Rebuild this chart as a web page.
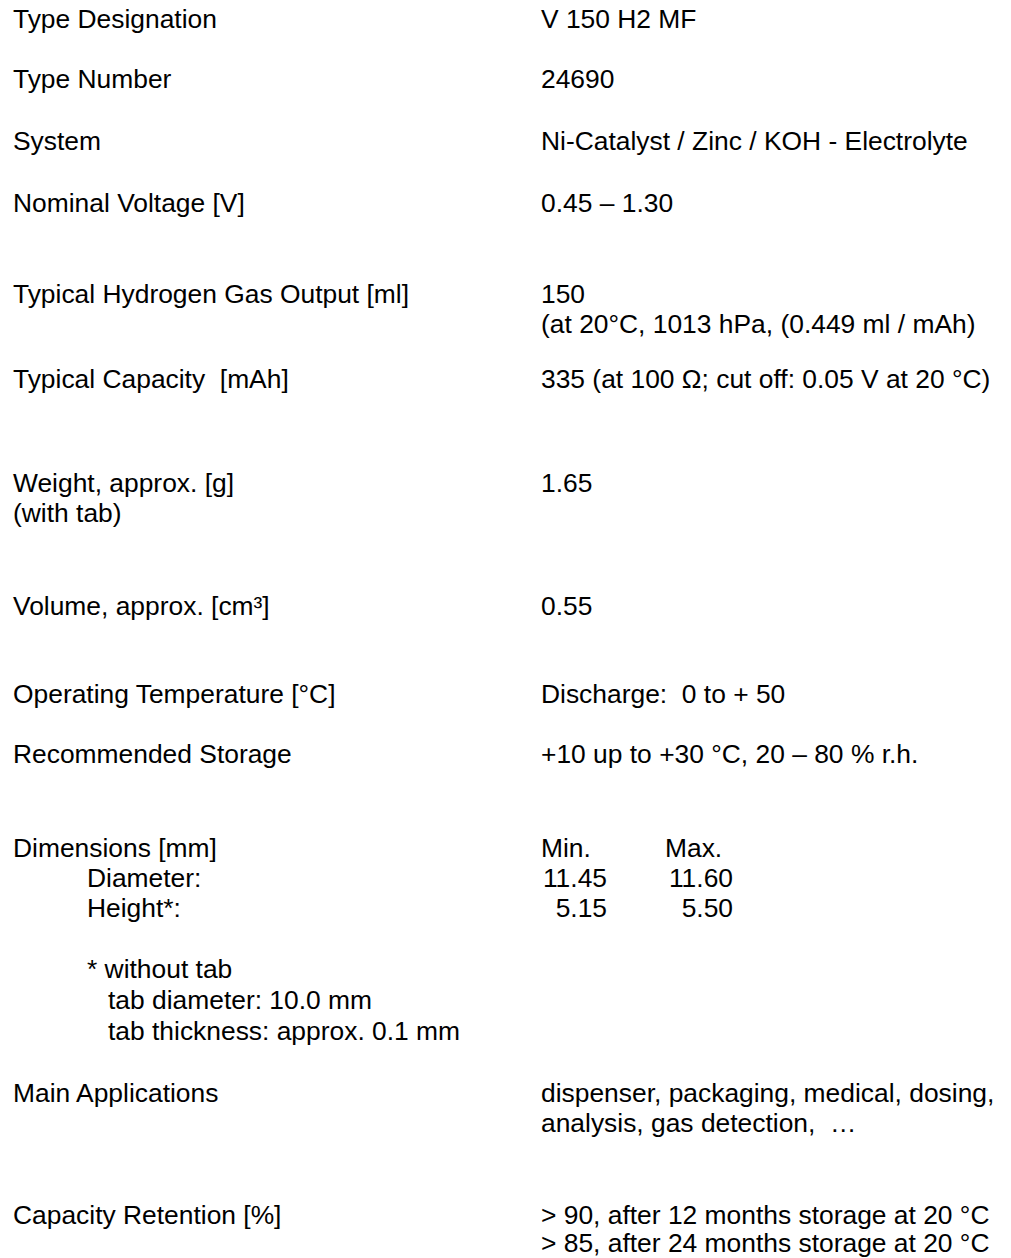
<!DOCTYPE html>
<html>
<head>
<meta charset="utf-8">
<script src="https://cdn.jsdelivr.net/npm/chart.js@4/dist/chart.umd.min.js"></script>
<style>
  html, body { margin: 0; padding: 0; background: #fff; }
  #sheet { position: relative; width: 1011px; height: 1258px; overflow: hidden; }
  .ln {
    position: absolute;
    font-family: "Liberation Sans", Arial, sans-serif;
    font-size: 26.4px;
    line-height: 26px;
    color: #000;
    white-space: pre;
  }
</style>
</head>
<body>
<div id="sheet"></div>
<script>
// ===== データ (仕様表) =====
const labels = [
  ["Type Designation"],
  ["Type Number"],
  ["System"],
  ["Nominal Voltage [V]"],
  ["Typical Hydrogen Gas Output [ml]"],
  ["Typical Capacity  [mAh]"],
  ["Weight, approx. [g]", "(with tab)"],
  ["Volume, approx. [cm³]"],
  ["Operating Temperature [°C]"],
  ["Recommended Storage"],
  ["Dimensions [mm]"],
  ["Main Applications"],
  ["Capacity Retention [%]"]
];
const values = [
  ["V 150 H2 MF"],
  ["24690"],
  ["Ni-Catalyst / Zinc / KOH - Electrolyte"],
  ["0.45 – 1.30"],
  ["150", "(at 20°C, 1013 hPa, (0.449 ml / mAh)"],
  ["335 (at 100 Ω; cut off: 0.05 V at 20 °C)"],
  ["1.65"],
  ["0.55"],
  ["Discharge:  0 to + 50"],
  ["+10 up to +30 °C, 20 – 80 % r.h."],
  [],
  ["dispenser, packaging, medical, dosing,", "analysis, gas detection,  …"],
  ["> 90, after 12 months storage at 20 °C", "> 85, after 24 months storage at 20 °C"]
];

// 寸法テーブル
const dimHeaders = ["Min.", "Max."];
const dimNames = ["Diameter:", "Height*:"];
const dimMin = ["11.45", "5.15"];
const dimMax = ["11.60", "5.50"];
const footnote = ["* without tab", "tab diameter: 10.0 mm", "tab thickness: approx. 0.1 mm"];

// ===== レイアウト =====
const rowBaseline = [28, 88, 150, 212, 303, 388, 492, 615, 703, 763, 857, 1102, 1224];
const lineStep = 29.5;
const labelX = 13, valueX = 541, indentX = 87, subIndentX = 108;
const minRight = 607, maxRight = 733, maxHeadX = 665;
const ASC = 22; // baseline offset inside the line box

const sheet = document.getElementById('sheet');
function put(text, x, baseline, rightAlign) {
  const d = document.createElement('div');
  d.className = 'ln';
  d.textContent = text;
  d.style.top = (baseline - ASC) + 'px';
  if (rightAlign) d.style.right = (1011 - x) + 'px';
  else d.style.left = x + 'px';
  sheet.appendChild(d);
}

labels.forEach((lines, i) => {
  lines.forEach((t, k) => put(t, labelX, rowBaseline[i] + k * lineStep));
  values[i].forEach((t, k) => put(t, valueX, rowBaseline[i] + k * (i === 12 ? 28 : lineStep)));
});

// 寸法 (Dimensions) ブロック
const dimRow = labels.findIndex(l => l[0].startsWith("Dimensions"));
const dimBase = rowBaseline[dimRow];
put(dimHeaders[0], valueX, dimBase);
put(dimHeaders[1], maxHeadX, dimBase);
dimNames.forEach((n, k) => {
  const y = dimBase + (k + 1) * lineStep + k * 1;
  put(n, indentX, y);
  put(dimMin[k], minRight, y, true);
  put(dimMax[k], maxRight, y, true);
});
footnote.forEach((t, k) => {
  put(t, k === 0 ? indentX : subIndentX, 978 + k * 31);
});
</script>
</body>
</html>
